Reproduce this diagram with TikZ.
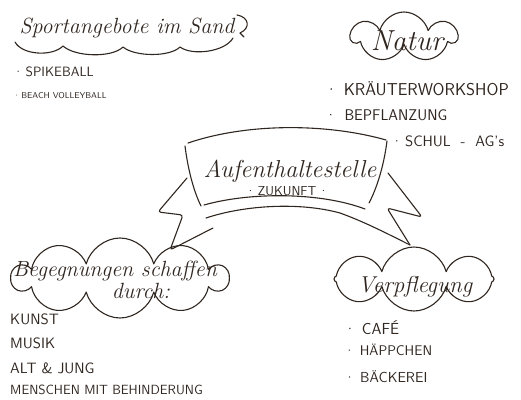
\documentclass[tikz,border=0pt]{standalone}
\usepackage{fontspec}
\usetikzlibrary{shapes.symbols}
\definecolor{ink}{RGB}{48,38,32}
\tikzset{
	inkline/.style={draw=ink, line width=1.1pt, line cap=round, line join=round},
	bubble/.style={cloud, inkline, cloud puffs=#1, cloud ignores aspect, inner sep=0pt},
	headline/.style={text=ink, inner sep=0pt, anchor=base, font=\itshape\fontsize{#1}{#1}\selectfont},
	listentry/.style={text=ink, inner sep=0pt, anchor=west, font=\sffamily\fontsize{#1}{#1}\selectfont},
}
\begin{document}
\begin{tikzpicture}[x=1pt, y=-1pt]
	\useasboundingbox (0,0) rectangle (521,399);

	% sport
	\node[headline=22] (sport) at (127,33) {Sportangebote im Sand};
	\draw[inkline] (15,42) .. controls (22,55) and (52,57) .. (63,46) .. controls (75,57) and (112,58) .. (123,47)
		.. controls (135,57) and (170,57) .. (180,47) .. controls (192,56) and (225,52) .. (233,38);
	\draw[inkline] (237,15) .. controls (249,17) and (251,28) .. (240,33) -- (244,37);
	\node[listentry=13.5] (spike) at (13,72) {·\,SPIKEBALL};
	\node[listentry=8.5] (beach) at (13,96) {·\,BEACH VOLLEYBALL};

	% natur
	\node[bubble=7, minimum width=105, minimum height=50] (natur-cloud) at (404,37) {};
	\node[headline=29] (natur) at (407,50) {Natur};
	\node[listentry=17.2] (kraeuter) at (325,89) {·\hspace{6pt}KRÄUTERWORKSHOP};
	\node[listentry=15.5] (bepflanzung) at (325,115) {·\hspace{8pt}BEPFLANZUNG};
	\node[listentry=15] (schul) at (391,141) {·\,SCHUL\ \ -\ \ AG's};

	% banner
	\node[headline=24.5] (stelle) at (290,177) {Aufenthaltestelle};
	\node[listentry=13, anchor=center] (zukunft) at (287,191) {·\,ZUKUNFT\,·};
	\draw[inkline] (188,143) .. controls (250,122) and (330,124) .. (386,140);
	\draw[inkline] (185,146) .. controls (188,170) and (194,192) .. (201,206);
	\draw[inkline] (387,141) .. controls (384,165) and (377,188) .. (369,203);
	\draw[inkline] (204,205) .. controls (250,192) and (320,192) .. (365,209);
	\draw[inkline, rounded corners=3pt] (187,178) -- (158,212) -- (183,215) -- (170,250) -- (213,228);
	\draw[inkline] (206,218) .. controls (245,205) and (300,202) .. (340,213) .. controls (365,222) and (390,235) .. (410,245);
	\draw[inkline, rounded corners=3pt] (388,173) -- (422,217) -- (387,208) -- (410,245);

	% begegnungen
	\node[bubble=10, minimum width=215, minimum height=80] (begegnung-cloud) at (120,278) {};
	\node[headline=22] (begegnung) at (115,276) {Begegnungen schaffen};
	\node[headline=22] (durch) at (141,298) {durch:};
	\node[listentry=15] (kunst) at (10,319) {KUNST};
	\node[listentry=15] (musik) at (10,343) {MUSIK};
	\node[listentry=15] (jung) at (10,368) {ALT \& JUNG};
	\node[listentry=13.3] (menschen) at (10,390) {MENSCHEN MIT BEHINDERUNG};

	% verpflegung
	\node[bubble=8, minimum width=160, minimum height=64] (verpflegung-cloud) at (414,279) {};
	\node[headline=23] (verpflegung) at (415,292) {Verpflegung};
	\node[listentry=16] (cafe) at (344,328) {·\hspace{6pt}CAFÉ};
	\node[listentry=14] (haeppchen) at (344,350) {·\hspace{5pt}HÄPPCHEN};
	\node[listentry=14.5] (baeckerei) at (344,377) {·\hspace{5pt}BÄCKEREI};
\end{tikzpicture}
\end{document}
